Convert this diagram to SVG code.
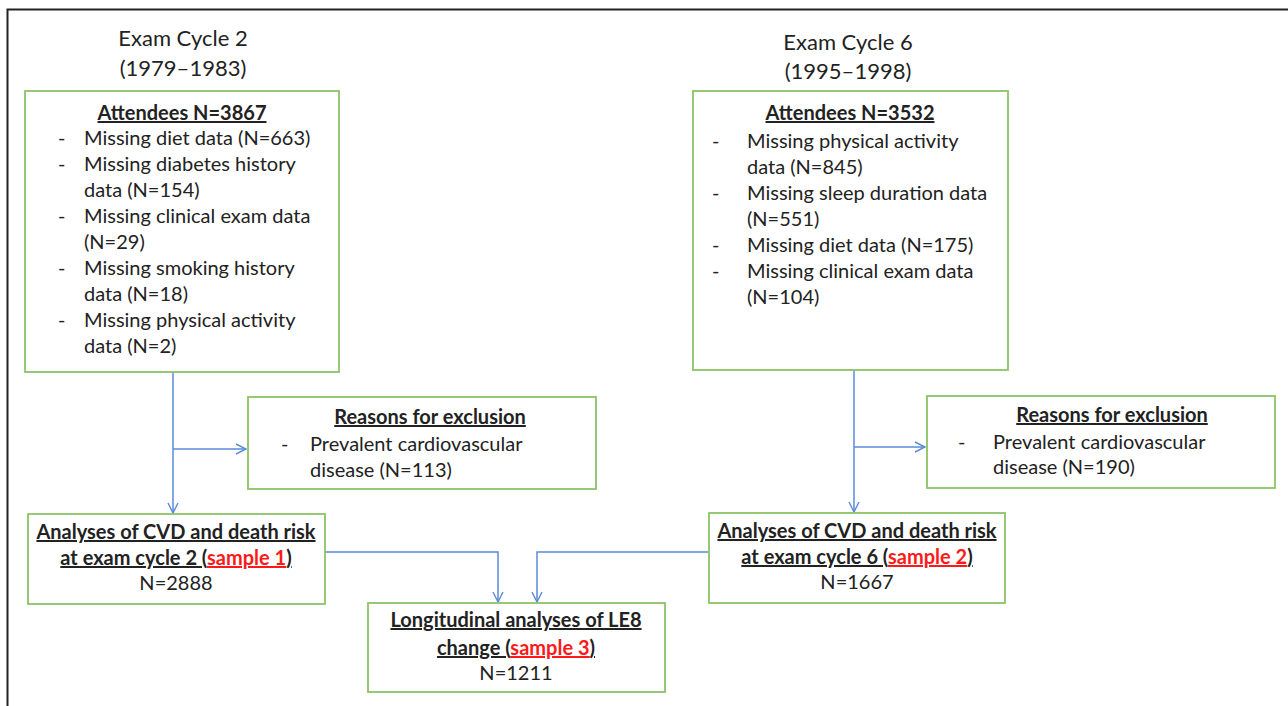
<svg xmlns="http://www.w3.org/2000/svg" width="1288" height="706" viewBox="0 0 1288 706">
<defs>
<style>
.box{fill:#fff;stroke:#8cc466;stroke-width:1.8}
.t{font-family:Lato,"Liberation Sans",sans-serif;font-size:20px;fill:#222}
.h{font-weight:bold;text-decoration:underline}
.c{text-anchor:middle}
.red{fill:#ff1a1a;text-decoration:underline}
.ttl{font-size:22px}
.ln{fill:none;stroke:#5b8bd8;stroke-width:1.5}
</style>
<marker id="arr" viewBox="0 0 12 12" refX="11" refY="6" markerWidth="12" markerHeight="12" markerUnits="userSpaceOnUse" orient="auto">
<path d="M1,1 L11,6 L1,11" fill="none" stroke="#5b8bd8" stroke-width="1.4"/>
</marker>
</defs>
<rect width="1288" height="706" fill="#fff"/>
<path d="M7.5,706 V9.5 H1288" fill="none" stroke="#222" stroke-width="2"/>

<g id="title2">
<text class="t ttl c" x="183" y="46">Exam Cycle 2</text>
<text class="t ttl c" x="183" y="76">(1979–1983)</text>
</g>
<g id="title6">
<text class="t ttl c" x="848" y="50">Exam Cycle 6</text>
<text class="t ttl c" x="848" y="79">(1995–1998)</text>
</g>

<g id="connectors">
<path class="ln" d="M173,372 V513" marker-end="url(#arr)"/>
<path class="ln" d="M173,449 H246" marker-end="url(#arr)"/>
<path class="ln" d="M854,370 V512" marker-end="url(#arr)"/>
<path class="ln" d="M854,447 H925" marker-end="url(#arr)"/>
<path class="ln" d="M325,552 H498 V602" marker-end="url(#arr)"/>
<path class="ln" d="M709,552 H537 V602" marker-end="url(#arr)"/>
</g>

<g id="attendees2">
<rect class="box" x="25" y="91" width="314" height="281"/>
<text class="t h c" x="182" y="120">Attendees N=3867</text>
<text class="t" x="58" y="145">-</text><text class="t" x="84" y="145">Missing diet data (N=663)</text>
<text class="t" x="58" y="171">-</text><text class="t" x="84" y="171">Missing diabetes history</text>
<text class="t" x="84" y="197">data (N=154)</text>
<text class="t" x="58" y="223">-</text><text class="t" x="84" y="223">Missing clinical exam data</text>
<text class="t" x="84" y="249">(N=29)</text>
<text class="t" x="58" y="275">-</text><text class="t" x="84" y="275">Missing smoking history</text>
<text class="t" x="84" y="301">data (N=18)</text>
<text class="t" x="58" y="327">-</text><text class="t" x="84" y="327">Missing physical activity</text>
<text class="t" x="84" y="353">data (N=2)</text>
</g>

<g id="attendees6">
<rect class="box" x="693" y="91" width="315" height="279"/>
<text class="t h c" x="850" y="120">Attendees N=3532</text>
<text class="t" x="712" y="148">-</text><text class="t" x="747" y="148">Missing physical activity</text>
<text class="t" x="747" y="174">data (N=845)</text>
<text class="t" x="712" y="200">-</text><text class="t" x="747" y="200">Missing sleep duration data</text>
<text class="t" x="747" y="226">(N=551)</text>
<text class="t" x="712" y="252">-</text><text class="t" x="747" y="252">Missing diet data (N=175)</text>
<text class="t" x="712" y="278">-</text><text class="t" x="747" y="278">Missing clinical exam data</text>
<text class="t" x="747" y="304">(N=104)</text>
</g>

<g id="exclusion2">
<rect class="box" x="248" y="397" width="348" height="92"/>
<text class="t h c" x="430" y="424">Reasons for exclusion</text>
<text class="t" x="281" y="451">-</text><text class="t" x="310" y="451">Prevalent cardiovascular</text>
<text class="t" x="310" y="477">disease (N=113)</text>
</g>

<g id="exclusion6">
<rect class="box" x="927" y="396" width="348" height="92"/>
<text class="t h c" x="1112" y="422">Reasons for exclusion</text>
<text class="t" x="958" y="449">-</text><text class="t" x="993" y="449">Prevalent cardiovascular</text>
<text class="t" x="993" y="474">disease (N=190)</text>
</g>

<g id="sample1">
<rect class="box" x="28" y="514" width="297" height="90"/>
<text class="t h c" x="176" y="539">Analyses of CVD and death risk</text>
<text class="t h c" x="176" y="565">at exam cycle 2 (<tspan class="red">sample 1</tspan>)</text>
<text class="t c" x="176" y="590">N=2888</text>
</g>

<g id="sample2">
<rect class="box" x="709" y="513" width="296" height="90"/>
<text class="t h c" x="857" y="538">Analyses of CVD and death risk</text>
<text class="t h c" x="857" y="564">at exam cycle 6 (<tspan class="red">sample 2</tspan>)</text>
<text class="t c" x="857" y="589">N=1667</text>
</g>

<g id="sample3">
<rect class="box" x="368" y="603" width="297" height="89"/>
<text class="t h c" x="516" y="627">Longitudinal analyses of LE8</text>
<text class="t h c" x="516" y="655">change (<tspan class="red">sample 3</tspan>)</text>
<text class="t c" x="516" y="680">N=1211</text>
</g>
</svg>
